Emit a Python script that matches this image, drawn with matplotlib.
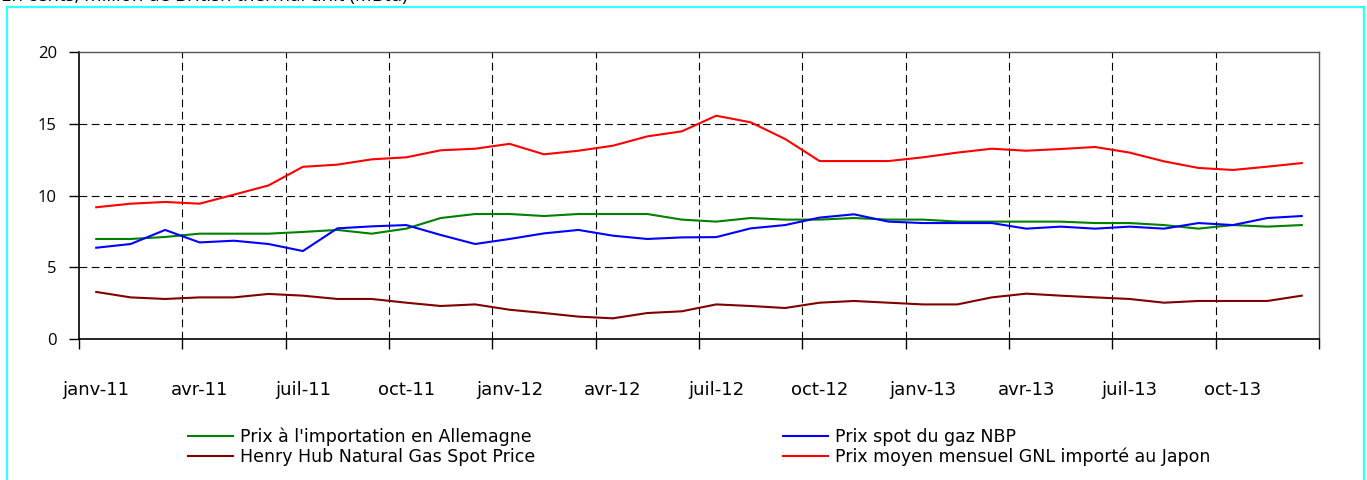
import numpy as np
import matplotlib
matplotlib.use("Agg")
import matplotlib.pyplot as plt
from matplotlib.patches import Rectangle

# Mois (janv-11 a dec-13)
mois = ["janv-11", "fevr-11", "mars-11", "avr-11", "mai-11", "juin-11",
        "juil-11", "aout-11", "sept-11", "oct-11", "nov-11", "dec-11",
        "janv-12", "fevr-12", "mars-12", "avr-12", "mai-12", "juin-12",
        "juil-12", "aout-12", "sept-12", "oct-12", "nov-12", "dec-12",
        "janv-13", "fevr-13", "mars-13", "avr-13", "mai-13", "juin-13",
        "juil-13", "aout-13", "sept-13", "oct-13", "nov-13", "dec-13"]
etiquettes = ["janv-11", "avr-11", "juil-11", "oct-11", "janv-12", "avr-12",
              "juil-12", "oct-12", "janv-13", "avr-13", "juil-13", "oct-13"]

allemagne = [6.97, 6.97, 7.11, 7.34, 7.34, 7.34, 7.46, 7.60, 7.34, 7.69, 8.43, 8.71,
             8.71, 8.57, 8.71, 8.71, 8.71, 8.32, 8.18, 8.43, 8.32, 8.32, 8.43, 8.32,
             8.32, 8.18, 8.18, 8.18, 8.18, 8.08, 8.08, 7.94, 7.69, 7.94, 7.83, 7.94]
nbp = [6.36, 6.62, 7.60, 6.73, 6.85, 6.62, 6.13, 7.71, 7.85, 7.94, 7.25, 6.62,
       6.97, 7.36, 7.60, 7.20, 6.97, 7.08, 7.10, 7.71, 7.94, 8.46, 8.69, 8.18,
       8.08, 8.08, 8.08, 7.69, 7.83, 7.69, 7.83, 7.69, 8.08, 7.94, 8.43, 8.57]
henry_hub = [3.28, 2.90, 2.79, 2.90, 2.90, 3.14, 3.02, 2.79, 2.79, 2.53, 2.30, 2.41,
             2.04, 1.81, 1.56, 1.44, 1.81, 1.93, 2.41, 2.30, 2.16, 2.53, 2.65, 2.53,
             2.41, 2.41, 2.90, 3.16, 3.02, 2.90, 2.79, 2.53, 2.65, 2.65, 2.65, 3.02]
japon = [9.18, 9.43, 9.55, 9.43, 10.06, 10.70, 12.00, 12.15, 12.52, 12.66, 13.15, 13.26,
         13.60, 12.87, 13.12, 13.47, 14.12, 14.47, 15.56, 15.10, 13.94, 12.40, 12.40, 12.40,
         12.66, 12.99, 13.26, 13.12, 13.24, 13.38, 12.99, 12.38, 11.92, 11.78, 12.01, 12.26]

police_texte = ["DejaVu Sans"]
police_chiffres = ["Open Sans", "DejaVu Sans"]

fig = plt.figure(figsize=(13.67, 4.8), dpi=100)
ax = fig.add_axes([79 / 1367, 1 - 339 / 480, (1319 - 79) / 1367, (339 - 52) / 480])

x = np.arange(len(mois)) + 0.5
lw = 1.5
ax.plot(x, allemagne, color="#008000", lw=lw, label="Prix à l'importation en Allemagne")
ax.plot(x, nbp, color="#0000FF", lw=lw, label="Prix spot du gaz NBP")
ax.plot(x, henry_hub, color="#800000", lw=lw, label="Henry Hub Natural Gas Spot Price")
ax.plot(x, japon, color="#FF0000", lw=lw, label="Prix moyen mensuel GNL importé au Japon")

ax.set_xlim(0, len(mois))
ax.set_ylim(0, 20)

# grille pointillee
for yv in [5, 10, 15]:
    ax.axhline(yv, color="black", lw=0.8, ls=(0, (7, 4)), zorder=0)
for xv in range(3, len(mois), 3):
    ax.axvline(xv, color="black", lw=0.8, ls=(0, (7, 4)), zorder=0)

ax.set_yticks([0, 5, 10, 15, 20])
ax.set_yticklabels(["0", "5", "10", "15", "20"], family=police_chiffres, fontsize=12)
ax.tick_params(axis="y", length=7, width=1, pad=9, direction="out")

ax.set_xticks(range(0, len(mois) + 1, 3))
ax.set_xticklabels([])
ax.tick_params(axis="x", length=7, width=1, direction="out")
for i, lab in enumerate(etiquettes):
    ax.text(3 * i + 0.5, -3.55, lab, ha="center", va="center",
            family=police_texte, fontsize=13)

for s in ["left", "bottom"]:
    ax.spines[s].set_color("black")
    ax.spines[s].set_linewidth(1.2)
for s in ["top", "right"]:
    ax.spines[s].set_color("#555555")
    ax.spines[s].set_linewidth(1.0)

h, l = ax.get_legend_handles_labels()
opts = dict(loc="upper left", frameon=False, borderpad=0, borderaxespad=0,
            handlelength=2.6, handletextpad=0.4, labelspacing=0.08,
            prop={"family": police_texte, "size": 12.5})
fig.legend([h[0], h[2]], [l[0], l[2]], bbox_to_anchor=(188 / 1367, 1 - 428 / 480), **opts)
fig.legend([h[1], h[3]], [l[1], l[3]], bbox_to_anchor=(783 / 1367, 1 - 428 / 480), **opts)

# cadre cyan
fig.patches.append(Rectangle((7 / 1367, -0.05), (1364 - 7) / 1367, 1 - 7 / 480 + 0.05,
                             transform=fig.transFigure, fill=False,
                             edgecolor="#33FFFF", lw=1.6))

# titre coupe en haut
fig.text(1 / 1367, 1 - 1.5 / 480, "En cents, million de British thermal unit (MBtu)",
         ha="left", va="baseline", fontsize=13.5, family=police_chiffres)

fig.savefig("out.png", dpi=100)
